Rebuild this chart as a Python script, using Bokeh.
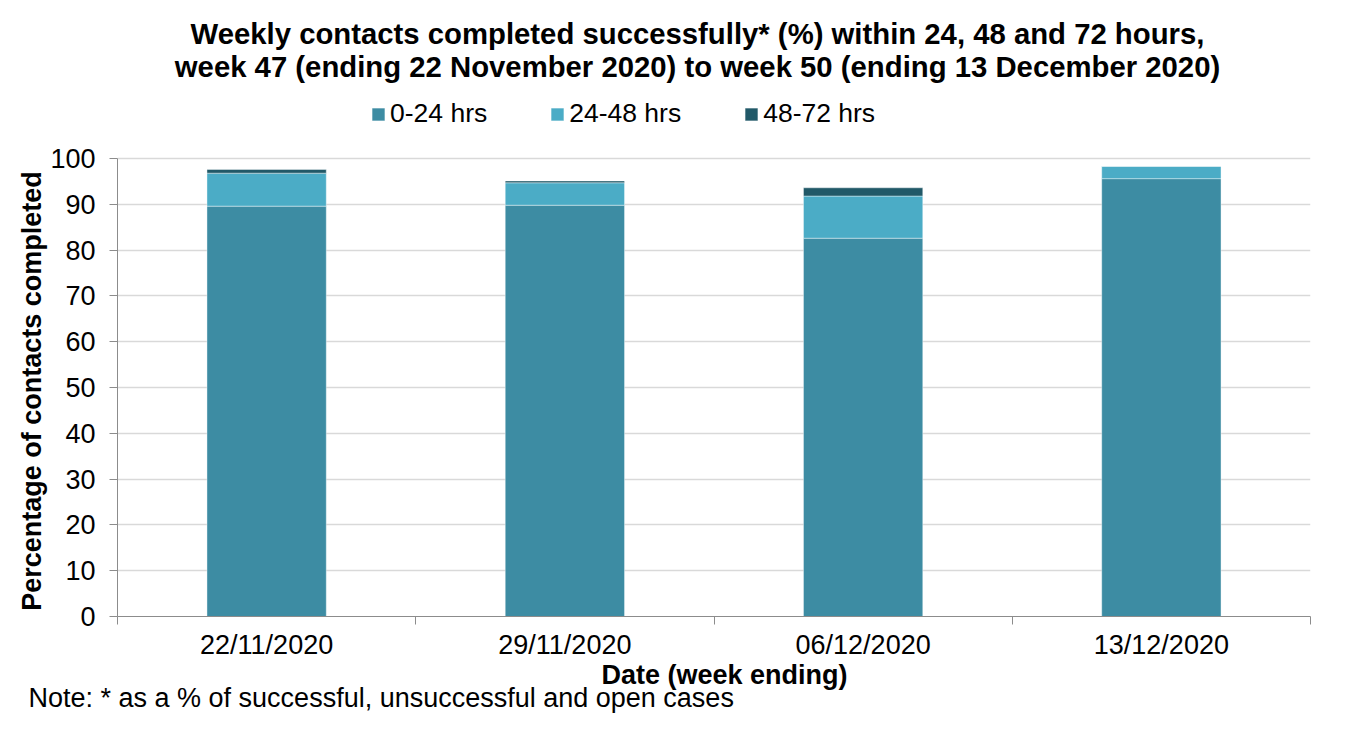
from bokeh.plotting import figure
from bokeh.models import ColumnDataSource, FixedTicker, Legend, LegendItem, Title, Label
from bokeh.embed import file_html
from bokeh.resources import INLINE

dates = ["22/11/2020", "29/11/2020", "06/12/2020", "13/12/2020"]
h0_24 = [89.6, 89.8, 82.6, 95.6]
h24_48 = [7.2, 4.9, 9.2, 2.7]
h48_72 = [0.8, 0.4, 1.8, 0.0]
series = ["0-24 hrs", "24-48 hrs", "48-72 hrs"]
colors = ["#3D8CA3", "#4BACC6", "#215968"]
y_ticks = list(range(0, 101, 10))
title_lines = ["Weekly contacts completed successfully* (%) within 24, 48 and 72 hours,",
               "week 47 (ending 22 November 2020) to week 50 (ending 13 December 2020)"]

xpos = [i + 0.5 for i in range(len(dates))]
src = ColumnDataSource(dict(x=xpos, a=h0_24, b=h24_48, c=h48_72))

FONT = "Liberation Sans"
FS = "27px"
W, H = 1338, 724
BOTTOM = 108                    # canvas px below the frame
FB = H - BOTTOM                 # frame bottom (canvas px from top)
TOP100 = 158                    # canvas px where y = 100 sits
scale = (FB - TOP100) / 100.0
ymax = 100 + TOP100 / scale     # frame reaches the canvas top

p = figure(width=W, height=H, x_range=(0, len(dates)), y_range=(0, ymax),
           output_backend="svg", toolbar_location=None,
           min_border_left=117, min_border_right=28,
           min_border_top=0, min_border_bottom=BOTTOM)
p.outline_line_color = None
p.background_fill_color = "white"
p.border_fill_color = "white"

r = p.vbar_stack(["a", "b", "c"], x="x", width=0.4, source=src, color=colors,
                 line_color="white", line_alpha=0.4, line_width=1)

# axes
p.xaxis.ticker = FixedTicker(ticks=xpos, minor_ticks=list(range(len(dates) + 1)))
p.xaxis.major_label_overrides = {v: d for v, d in zip(xpos, dates)}
p.xaxis.major_tick_out = 0
p.xaxis.major_tick_in = 0
p.xaxis.minor_tick_out = 8
p.xaxis.minor_tick_in = 0
p.xaxis.minor_tick_line_color = "#8C8C8C"
p.xaxis.axis_line_color = "#8C8C8C"
p.xaxis.major_label_text_font = FONT
p.xaxis.major_label_text_font_size = FS
p.xaxis.major_label_text_color = "black"
p.xaxis.major_label_standoff = 5

p.yaxis.ticker = FixedTicker(ticks=y_ticks)
p.yaxis.bounds = (0, 100)
p.yaxis.major_tick_out = 8
p.yaxis.major_tick_in = 0
p.yaxis.minor_tick_line_color = None
p.yaxis.major_tick_line_color = "#8C8C8C"
p.yaxis.axis_line_color = "#8C8C8C"
p.yaxis.major_label_text_font = FONT
p.yaxis.major_label_text_font_size = FS
p.yaxis.major_label_text_color = "black"
p.yaxis.major_label_standoff = 14
p.yaxis.axis_label = "Percentage of contacts completed" + "\u00a0" * 22
p.yaxis.axis_label_text_font = FONT
p.yaxis.axis_label_text_font_size = FS
p.yaxis.axis_label_text_font_style = "bold"
p.yaxis.axis_label_text_color = "black"
p.yaxis.axis_label_standoff = 0

p.xgrid.grid_line_color = None
p.ygrid.grid_line_color = "#D9D9D9"
p.ygrid.grid_line_width = 1.5

legend = Legend(items=[LegendItem(label=s, renderers=[rr]) for s, rr in zip(series, r)],
                orientation="horizontal", location=(253, FB - 113 - 16),
                label_text_font=FONT, label_text_font_size="26.5px", label_text_color="black",
                glyph_width=16, glyph_height=16, spacing=62, label_standoff=4,
                padding=0, margin=0,
                border_line_color=None, background_fill_alpha=0)
p.add_layout(legend, "center")

for txt, cy in zip(title_lines, [33, 66]):
    p.add_layout(Label(x=580, y=FB - cy, x_units="screen", y_units="screen", text=txt,
                       text_font=FONT, text_font_size="29.3px", text_font_style="bold",
                       text_align="center", text_baseline="middle", text_color="black"))

p.add_layout(Title(text="Date (week ending)", align="left", offset=484, standoff=-10,
                   text_font=FONT, text_font_size=FS, text_font_style="bold",
                   text_color="black"), "below")
p.add_layout(Title(text="Note: * as a % of successful, unsuccessful and open cases",
                   align="left", offset=-89, standoff=-8, text_font=FONT, text_font_size=FS,
                   text_color="black", text_font_style="normal"), "below")

open("out.html", "w").write(file_html(p, INLINE))
